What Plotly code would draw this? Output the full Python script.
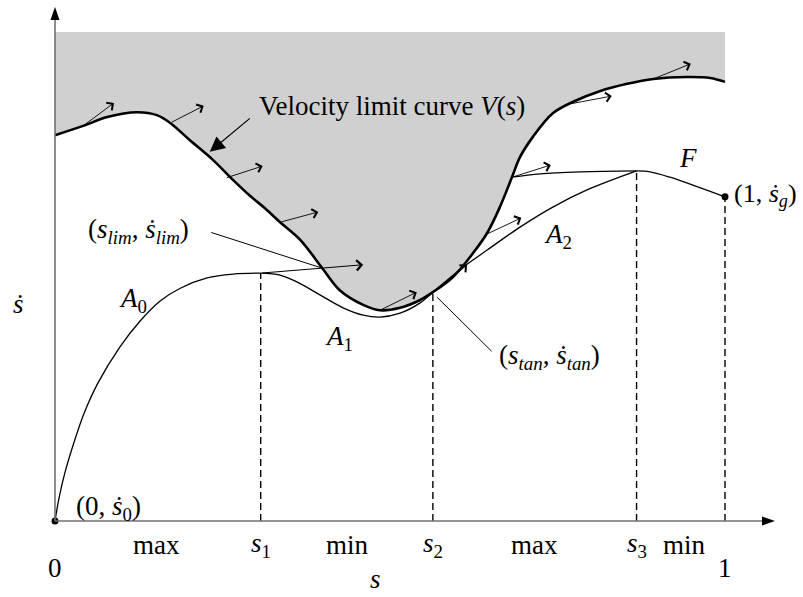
import plotly.graph_objects as go

# ------------------------------------------------------------------
# Data (s in [0,1], s-dot in arbitrary units, shaded region top = 1)
# ------------------------------------------------------------------
# Velocity limit curve V(s)
vlc_s = [0.000, 0.042, 0.078, 0.122, 0.152, 0.172, 0.201, 0.236, 0.266, 0.291,
         0.313, 0.336, 0.366, 0.399, 0.425, 0.460, 0.485, 0.515, 0.545, 0.564,
         0.594, 0.624, 0.645, 0.664, 0.682, 0.694, 0.713, 0.743, 0.776, 0.813,
         0.854, 0.893, 0.943, 0.978, 1.000]
vlc_v = [0.789, 0.808, 0.826, 0.836, 0.830, 0.814, 0.779, 0.738, 0.697, 0.665,
         0.640, 0.611, 0.575, 0.517, 0.472, 0.442, 0.431, 0.436, 0.452, 0.468,
         0.499, 0.548, 0.589, 0.642, 0.703, 0.744, 0.785, 0.834, 0.859, 0.879,
         0.894, 0.904, 0.908, 0.906, 0.898]
shade_top = 1.0

# Trajectory segments
a0_s = [0.000, 0.006, 0.015, 0.027, 0.043, 0.064, 0.097, 0.127, 0.157, 0.187,
        0.227, 0.266, 0.307]
a0_v = [0.000, 0.047, 0.100, 0.155, 0.219, 0.282, 0.356, 0.409, 0.450, 0.476,
        0.497, 0.505, 0.507]

a1_s = [0.307, 0.336, 0.361, 0.396, 0.430, 0.460, 0.485, 0.515, 0.545, 0.564]
a1_v = [0.507, 0.503, 0.489, 0.462, 0.436, 0.421, 0.417, 0.425, 0.446, 0.468]

a2_s = [0.564, 0.609, 0.645, 0.694, 0.743, 0.794, 0.868]
a2_v = [0.468, 0.519, 0.554, 0.601, 0.642, 0.677, 0.716]

flat_s = [0.682, 0.724, 0.784, 0.868]
flat_v = [0.703, 0.710, 0.714, 0.716]

f_s = [0.868, 0.888, 0.918, 0.952, 1.000]
f_v = [0.716, 0.714, 0.703, 0.687, 0.663]

# Switching points (dashed verticals)
switch_s = [0.307, 0.564, 0.868, 1.000]
switch_v = [0.507, 0.468, 0.716, 0.663]

# Start / goal points
end_s = [0.000, 1.000]
end_v = [0.000, 0.663]

# Tangent arrows along the limit curve (tail -> head)
tan_s0 = [0.042, 0.172, 0.254, 0.336, 0.485, 0.594, 0.642, 0.682, 0.769, 0.893]
tan_v0 = [0.808, 0.814, 0.701, 0.611, 0.431, 0.499, 0.585, 0.703, 0.853, 0.904]
tan_s1 = [0.088, 0.222, 0.310, 0.393, 0.540, 0.615, 0.696, 0.740, 0.831, 0.949]
tan_v1 = [0.855, 0.849, 0.726, 0.632, 0.468, 0.524, 0.620, 0.728, 0.869, 0.935]

# Forward integration arrow from s1 through (s_lim, sdot_lim)
lim_arrow_s = [0.307, 0.460]
lim_arrow_v = [0.507, 0.524]

# Axis text
bottom_labels = ["max", "<i>s</i><sub>1</sub>", "min", "<i>s</i><sub>2</sub>",
                 "max", "<i>s</i><sub>3</sub>", "min"]
bottom_s = [0.152, 0.307, 0.437, 0.564, 0.715, 0.868, 0.939]
end_tick_labels = ["0", "1"]
end_tick_s = [0.0, 1.0]

# ------------------------------------------------------------------
FONT = "Liberation Serif, DejaVu Serif, serif"
FS = 27
BLACK = "black"

# axis ranges: x_px = 55 + 670*s ; y_px = 521 - 489*sdot
XR = [-55 / 670, (803 - 55) / 670]
YR = [-76 / 489, 521 / 489]
X_TIP = (775 - 55) / 670
Y_TIP = (521 - 7) / 489

fig = go.Figure()

# shaded infeasible region
fig.add_trace(go.Scatter(x=[vlc_s[0], vlc_s[-1]], y=[shade_top, shade_top],
                         mode="lines", line=dict(width=0, color="rgba(0,0,0,0)"),
                         hoverinfo="skip"))
fig.add_trace(go.Scatter(x=vlc_s, y=vlc_v, mode="lines", fill="tonexty",
                         fillcolor="#d0d0d0",
                         line=dict(color=BLACK, width=2.6, shape="spline"),
                         hoverinfo="skip"))

# axes
fig.add_shape(type="line", xref="x", yref="y", x0=0, y0=0, x1=X_TIP - 0.01, y1=0,
              line=dict(color="#707070", width=1.6))
fig.add_shape(type="line", xref="x", yref="y", x0=0, y0=0, x1=0, y1=Y_TIP - 0.01,
              line=dict(color="#707070", width=1.6))
fig.add_shape(type="path", xref="x", yref="y", xsizemode="pixel", ysizemode="pixel",
              xanchor=X_TIP, yanchor=0, path="M-13,4.5 L0,0 L-13,-4.5 Z",
              fillcolor=BLACK, line=dict(width=0))
fig.add_shape(type="path", xref="x", yref="y", xsizemode="pixel", ysizemode="pixel",
              xanchor=0, yanchor=Y_TIP, path="M-4.5,-13 L0,0 L4.5,-13 Z",
              fillcolor=BLACK, line=dict(width=0))

# dashed switching lines
for s, v in zip(switch_s, switch_v):
    fig.add_trace(go.Scatter(x=[s, s], y=[0, v], mode="lines",
                             line=dict(color=BLACK, width=1.4, dash="7px,4px"),
                             hoverinfo="skip"))

# trajectories
for xs, ys in [(a0_s, a0_v), (a1_s, a1_v), (a2_s, a2_v), (flat_s, flat_v), (f_s, f_v)]:
    fig.add_trace(go.Scatter(x=xs, y=ys, mode="lines",
                             line=dict(color=BLACK, width=1.3, shape="spline"),
                             hoverinfo="skip"))

# start/goal dots
fig.add_trace(go.Scatter(x=end_s, y=end_v, mode="markers",
                         marker=dict(color=BLACK, size=7), hoverinfo="skip"))

# tangent arrows
for s0, v0, s1_, v1 in zip(tan_s0, tan_v0, tan_s1, tan_v1):
    fig.add_annotation(x=s1_, y=v1, ax=s0, ay=v0, xref="x", yref="y",
                       axref="x", ayref="y", text="", showarrow=True,
                       arrowhead=4, arrowsize=2.0, arrowwidth=0.9,
                       arrowcolor=BLACK, standoff=0, startstandoff=0)
fig.add_annotation(x=lim_arrow_s[1], y=lim_arrow_v[1], ax=lim_arrow_s[0], ay=lim_arrow_v[0],
                   xref="x", yref="y", axref="x", ayref="y", text="", showarrow=True,
                   arrowhead=4, arrowsize=1.8, arrowwidth=1.1, arrowcolor=BLACK,
                   standoff=0, startstandoff=0)

# pointer lines
fig.add_annotation(x=0.231, y=0.755, ax=0.293, ay=0.826, xref="x", yref="y",
                   axref="x", ayref="y", text="", showarrow=True, arrowhead=2,
                   arrowsize=2.5, arrowwidth=1.2, arrowcolor=BLACK, standoff=0)
fig.add_annotation(x=0.399, y=0.517, ax=0.231, ay=0.591, xref="x", yref="y",
                   axref="x", ayref="y", text="", showarrow=True, arrowhead=0,
                   arrowwidth=1, arrowcolor=BLACK, standoff=0)
fig.add_annotation(x=0.570, y=0.458, ax=0.654, ay=0.344, xref="x", yref="y",
                   axref="x", ayref="y", text="", showarrow=True, arrowhead=0,
                   arrowwidth=1, arrowcolor=BLACK, standoff=0)


def label(text, s, v, xanchor="center", yanchor="middle", size=FS):
    fig.add_annotation(x=s, y=v, xref="x", yref="y", text=text, showarrow=False,
                       xanchor=xanchor, yanchor=yanchor,
                       font=dict(family=FONT, size=size, color=BLACK))


label("Velocity limit curve <i>V</i>(<i>s</i>)", 0.301, 0.849, "left")
label("(<i>s</i><sub><i>lim</i></sub>, <i>ṡ</i><sub><i>lim</i></sub>)", 0.046, 0.593, "left")
label("<i>A</i><sub>0</sub>", 0.116, 0.452)
label("<i>A</i><sub>1</sub>", 0.424, 0.374)
label("<i>A</i><sub>2</sub>", 0.751, 0.583)
label("(<i>s</i><sub><i>tan</i></sub>, <i>ṡ</i><sub><i>tan</i></sub>)", 0.660, 0.335, "left")
label("<i>F</i>", 0.945, 0.742)
label("(1, <i>ṡ</i><sub><i>g</i></sub>)", 1.011, 0.667, "left", size=26)
label("(0, <i>ṡ</i><sub>0</sub>)", 0.028, 0.027, "left")
for t, s in zip(bottom_labels, bottom_s):
    label(t, s, -0.049)
for t, s in zip(end_tick_labels, end_tick_s):
    label(t, s, -0.096)
label("<i>s</i>", 0.478, -0.1535, yanchor="bottom")
label("<i>ṡ</i>", -0.055, 0.444)

fig.update_layout(
    width=803, height=597, margin=dict(l=0, r=0, t=0, b=0, pad=0),
    paper_bgcolor="white", plot_bgcolor="white", showlegend=False,
    xaxis=dict(range=XR, visible=False, fixedrange=True),
    yaxis=dict(range=YR, visible=False, fixedrange=True),
)

fig.write_html("out.html", config={"displayModeBar": False},
               post_script="document.body.style.margin='0';document.body.style.overflow='hidden';")
